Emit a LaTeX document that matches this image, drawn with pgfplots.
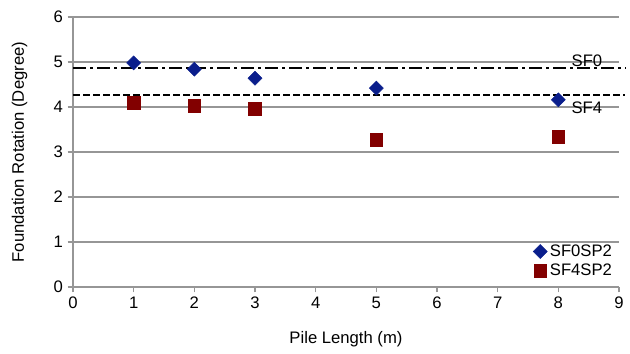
\documentclass[border=0pt]{standalone}
\usepackage{pgfplots}
\pgfplotsset{compat=1.18}
\usepackage{fontspec}
\setmainfont{Liberation Sans}
\definecolor{navyd}{RGB}{10,30,140}
\definecolor{redd}{RGB}{130,0,0}
\definecolor{gridg}{RGB}{150,150,150}
\begin{document}
\begin{tikzpicture}[x=1pt,y=1pt]
\begin{axis}[
  scale only axis,
  width=409.5pt, height=202.5pt,
  xmin=0, xmax=9, ymin=0, ymax=6,
  xtick={0,...,9}, ytick={0,...,6},
  axis lines*=left,
  axis line style={gridg, line width=0.8pt},
  every tick/.style={gridg, line width=0.8pt},
  tick align=outside, major tick length=4pt,
  ymajorgrids, grid style={gridg, line width=0.8pt},
  tick label style={font=\fontsize{12.5}{14}\selectfont},
  /pgf/number format/assume math mode=true,
  xlabel={Pile Length (m)}, ylabel={Foundation Rotation (Degree)},
  label style={font=\fontsize{12.5}{14}\selectfont},
  xlabel style={at={(axis description cs:0.5,0)}, anchor=center, yshift=-39pt},
  ylabel style={at={(axis description cs:0,0.5)}, anchor=center, yshift=40pt},
  clip=false,
  legend style={draw=none, fill=none, at={(0.995,0.02)}, anchor=south east, font=\fontsize{12.5}{14}\selectfont, row sep=0pt, inner sep=1pt},
  legend cell align=left,
  legend image code/.code={\draw[#1] plot coordinates {(0.15cm,0cm)};},
]
\addplot[only marks, mark=square*, mark size=3.7pt, mark options={rotate=45}, color=navyd] coordinates {(1,4.98) (2,4.84) (3,4.64) (5,4.42) (8,4.16)};
\addlegendentry{SF0SP2}
\addplot[only marks, mark=square*, mark size=4.8pt, color=redd] coordinates {(1,4.09) (2,4.02) (3,3.96) (5,3.27) (8,3.33)};
\addlegendentry{SF4SP2}
\addplot[black, line width=1pt, dash pattern=on 10pt off 3pt on 2pt off 3pt, forget plot] coordinates {(0,4.87) (9.1,4.87)};
\addplot[black, line width=1.2pt, dash pattern=on 5pt off 2.5pt, forget plot] coordinates {(0,4.27) (9.1,4.27)};
\node[font=\fontsize{12.5}{14}\selectfont, anchor=south east, inner sep=1pt] at (axis cs:8.75,4.87) {SF0};
\node[font=\fontsize{12.5}{14}\selectfont, anchor=center] at (axis cs:8.47,3.98) {SF4};
\end{axis}
\pgfresetboundingbox
\path (-54.75pt,-49.5pt) rectangle (417.75pt,215.25pt);
\end{tikzpicture}
\end{document}
